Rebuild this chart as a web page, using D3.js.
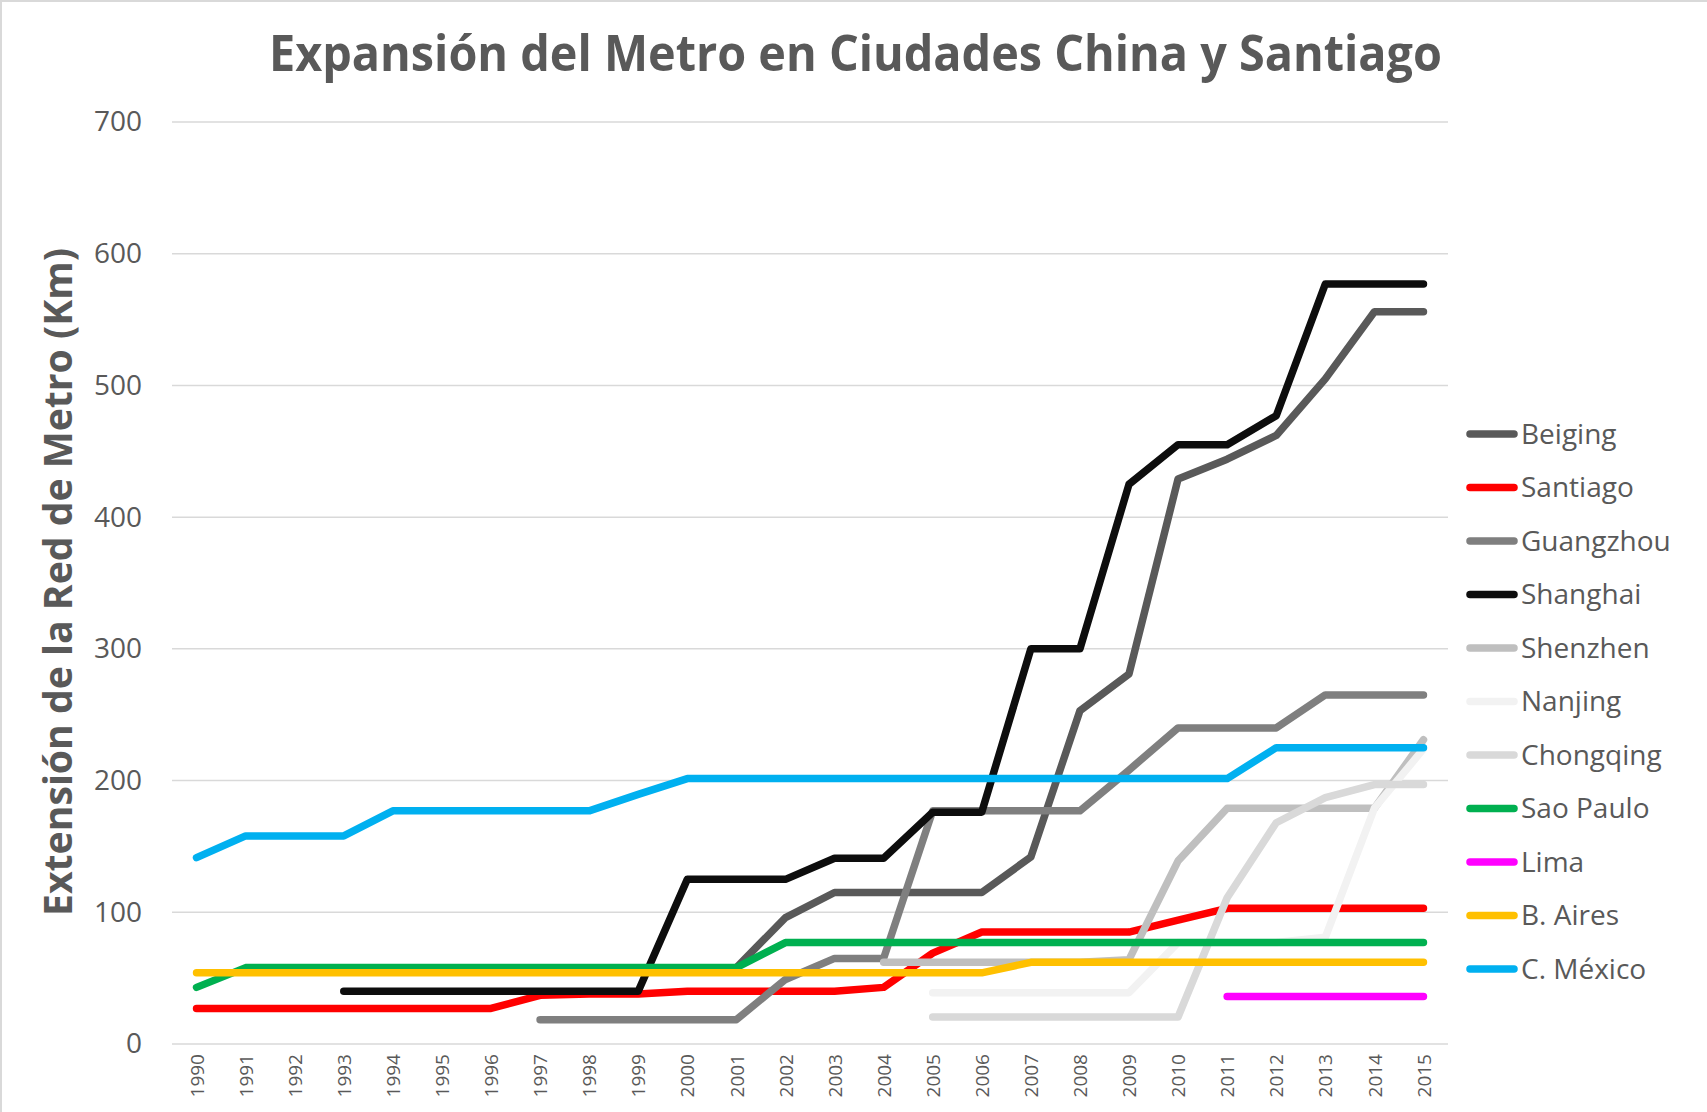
<!DOCTYPE html>
<html>
<head>
<meta charset="utf-8">
<script src="https://cdn.jsdelivr.net/npm/d3@7"></script>
<style>
  html, body { margin: 0; padding: 0; background: #fff; }
  svg { display: block; }
  text { font-family: "Open Sans", "DejaVu Sans", sans-serif; fill: #595959; }
</style>
</head>
<body>
<svg id="chart" width="1707" height="1112"></svg>
<script>
// Metro network length (km) by year
const years = d3.range(1990, 2016);
const yTicks = [0, 100, 200, 300, 400, 500, 600, 700];

const N = null;
const beiging   = [N,N,N,N,N,N,N,N,N,N,N,58,96,115,115,115,115,142,253,281,429,444,462,505,556,556];
const santiago  = [27,27,27,27,27,27,27,37,38,38,40,40,40,40,43,69,85,85,85,85,94,103,103,103,103,103];
const guangzhou = [N,N,N,N,N,N,N,18.5,18.5,18.5,18.5,18.5,49,65,65,177,177,177,177,208,240,240,240,265,265,265];
const shanghai  = [N,N,N,40,40,40,40,40,40,40,125,125,125,141,141,176,176,300,300,425,455,455,477,577,577,577];
const shenzhen  = [N,N,N,N,N,N,N,N,N,N,N,N,N,N,62,62,62,62,62,64,139,179,179,179,179,231];
const nanjing   = [N,N,N,N,N,N,N,N,N,N,N,N,N,N,N,39,39,39,39,39,77,77,77,81,179,224];
const chongqing = [N,N,N,N,N,N,N,N,N,N,N,N,N,N,N,20.5,20.5,20.5,20.5,20.5,20.5,111,168,187,197,197];
const saoPaulo  = [43,58,58,58,58,58,58,58,58,58,58,58,77,77,77,77,77,77,77,77,77,77,77,77,77,77];
const lima      = [N,N,N,N,N,N,N,N,N,N,N,N,N,N,N,N,N,N,N,N,N,36,36,36,36,36];
const bAires    = [54,54,54,54,54,54,54,54,54,54,54,54,54,54,54,54,54,62,62,62,62,62,62,62,62,62];
const mexico    = [141.5,158,158,158,177,177,177,177,177,189.5,201.5,201.5,201.5,201.5,201.5,201.5,201.5,201.5,201.5,201.5,201.5,201.5,225,225,225,225];

const seriesNames  = ["Beiging","Santiago","Guangzhou","Shanghai","Shenzhen","Nanjing","Chongqing","Sao Paulo","Lima","B. Aires","C. México"];
const seriesValues = [beiging, santiago, guangzhou, shanghai, shenzhen, nanjing, chongqing, saoPaulo, lima, bAires, mexico];
const seriesColors = ["#595959","#ff0000","#7f7f7f","#0d0d0d","#bfbfbf","#f2f2f2","#d9d9d9","#00b050","#ff00ff","#ffc000","#00b0f0"];

const titleText = "Expansión del Metro en Ciudades China y Santiago";
const yTitleText = "Extensión de la Red de Metro (Km)";

const svg = d3.select("#chart");

// chart area border
svg.append("rect")
  .attr("x", 1).attr("y", 1).attr("width", 1740).attr("height", 1140)
  .attr("fill", "none").attr("stroke", "#d9d9d9").attr("stroke-width", 2);

const plot = { left: 172, right: 1448, top: 122, bottom: 1044 };

const x = d3.scalePoint()
  .domain(years)
  .range([plot.left, plot.right])
  .padding(0.5);

const y = d3.scaleLinear()
  .domain([0, 700])
  .range([plot.bottom, plot.top]);

// horizontal gridlines
svg.append("g")
  .selectAll("line")
  .data(yTicks)
  .join("line")
  .attr("x1", plot.left).attr("x2", plot.right)
  .attr("y1", d => y(d)).attr("y2", d => y(d))
  .attr("stroke", "#d9d9d9").attr("stroke-width", 1.5);

// y axis labels
const yAxis = d3.axisLeft(y).tickValues(yTicks).tickSize(0).tickPadding(0);
svg.append("g")
  .attr("transform", `translate(${plot.left - 30},0)`)
  .call(yAxis)
  .call(g => g.select(".domain").remove())
  .selectAll("text")
  .attr("font-size", 28)
  .style("font-family", "'Open Sans', sans-serif")
  .attr("fill", "#595959");

// x axis labels (vertical)
const xAxis = d3.axisBottom(x).tickSize(0).tickPadding(0);
svg.append("g")
  .attr("transform", `translate(0,${plot.bottom})`)
  .call(xAxis)
  .call(g => g.select(".domain").remove())
  .selectAll("text")
  .attr("font-size", 19)
  .style("font-family", "'Open Sans', sans-serif")
  .attr("fill", "#595959")
  .attr("text-anchor", "end")
  .attr("transform", "translate(0,10) rotate(-90)")
  .attr("x", 0)
  .attr("y", 0)
  .attr("dy", "0.35em");

// series lines
const line = d3.line()
  .defined(d => d.v !== null)
  .x(d => x(d.year))
  .y(d => y(d.v));

const linesG = svg.append("g");
seriesValues.forEach((vals, i) => {
  const pts = years.map((yr, j) => ({ year: yr, v: vals[j] }));
  linesG.append("path")
    .datum(pts)
    .attr("d", line)
    .attr("fill", "none")
    .attr("stroke", seriesColors[i])
    .attr("stroke-width", 7.5)
    .attr("stroke-linecap", "round")
    .attr("stroke-linejoin", "round");
});

// legend
const legend = svg.append("g");
const legendY = d3.scalePoint().domain(seriesNames).range([434, 969]);
seriesNames.forEach((name, i) => {
  const ly = legendY(name);
  legend.append("line")
    .attr("x1", 1470).attr("x2", 1514)
    .attr("y1", ly).attr("y2", ly)
    .attr("stroke", seriesColors[i])
    .attr("stroke-width", 7.5)
    .attr("stroke-linecap", "round");
  legend.append("text")
    .attr("x", 1521).attr("y", ly)
    .attr("dy", "0.35em")
    .attr("font-size", 28)
    .text(name);
});

// title
svg.append("text")
  .attr("x", 269).attr("y", 71)
  .attr("font-size", 50)
  .attr("font-weight", 700)
  .attr("textLength", 1173)
  .attr("lengthAdjust", "spacingAndGlyphs")
  .text(titleText);

// y axis title
svg.append("text")
  .attr("transform", "translate(72,582) rotate(-90)")
  .attr("text-anchor", "middle")
  .attr("font-size", 40)
  .attr("font-weight", 700)
  .attr("textLength", 668)
  .attr("lengthAdjust", "spacingAndGlyphs")
  .text(yTitleText);
</script>
</body>
</html>
